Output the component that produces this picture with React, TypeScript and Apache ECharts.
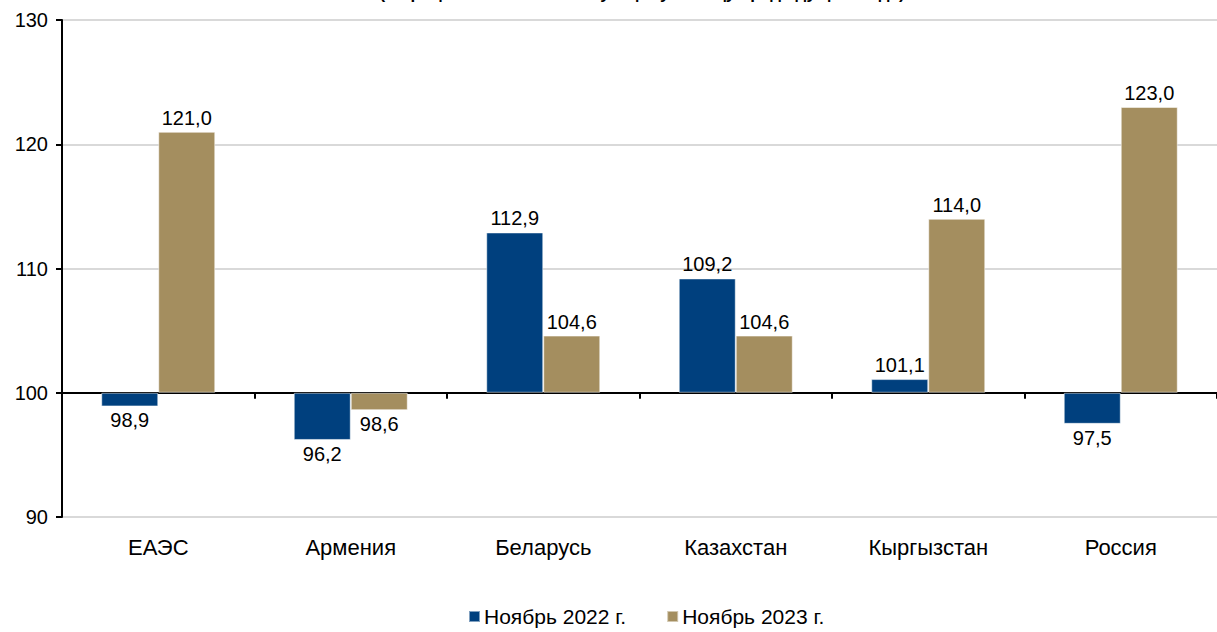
import React, { useEffect, useRef } from "react";
import * as echarts from "echarts";

const categories = ["ЕАЭС", "Армения", "Беларусь", "Казахстан", "Кыргызстан", "Россия"];
const seriesNames = ["Ноябрь 2022 г.", "Ноябрь 2023 г."];
const nov2022 = [98.9, 96.2, 112.9, 109.2, 101.1, 97.5];
const nov2023 = [121.0, 98.6, 104.6, 104.6, 114.0, 123.0];
const baseValue = 100;
const yMin = 90;
const yMax = 130;
const yInterval = 10;
const titleText = "(в процентах к соответствующему месяцу предыдущего года)";

const FONT = "Arial, 'Liberation Sans', sans-serif";

function toItems(values: number[]) {
  return values.map((v) => ({
    value: +(v - baseValue).toFixed(2),
    raw: v,
    label: { position: v >= baseValue ? "top" : "bottom" },
  }));
}

export default function App() {
  const ref = useRef<HTMLDivElement>(null);
  useEffect(() => {
    document.body.style.margin = "0";
    if (!ref.current) return;
    const chart = echarts.init(ref.current, undefined, { renderer: "svg" });
    const labelFmt = (p: any) => (p.data.raw as number).toFixed(1).replace(".", ",");
    chart.setOption({
      animation: false,
      textStyle: { fontFamily: FONT },
      graphic: [
        {
          type: "text",
          x: 642,
          y: 2,
          style: {
            text: titleText,
            fontFamily: FONT,
            fontSize: 17,
            fontWeight: "bold",
            fill: "#000",
            align: "center",
            verticalAlign: "bottom",
          },
        },
      ],
      grid: { left: 62, right: 0, top: 20, bottom: 115, containLabel: false },
      legend: {
        left: 463,
        top: 601,
        icon: "rect",
        itemWidth: 11,
        itemHeight: 11,
        itemGap: 40,
        textStyle: { fontSize: 21, color: "#000", fontFamily: FONT, padding: [0, 0, 0, -1] },
        data: seriesNames,
      },
      xAxis: [
        {
          type: "category",
          data: categories,
          axisLine: { onZero: true, lineStyle: { color: "#000", width: 2 } },
          axisTick: { show: true, length: 6, lineStyle: { color: "#000", width: 2 } },
          axisLabel: { show: false },
          splitLine: { show: false },
        },
        {
          type: "category",
          data: categories,
          position: "bottom",
          axisLine: { show: false, onZero: false },
          axisTick: { show: false },
          axisLabel: { show: true, fontSize: 22, color: "#000", fontFamily: FONT, margin: 19 },
          splitLine: { show: false },
        },
      ],
      yAxis: {
        type: "value",
        min: yMin - baseValue,
        max: yMax - baseValue,
        interval: yInterval,
        axisLine: { show: true, lineStyle: { color: "#000", width: 2 } },
        axisTick: { show: true, length: 6, lineStyle: { color: "#000", width: 2 } },
        axisLabel: {
          fontSize: 20,
          color: "#000",
          fontFamily: FONT,
          margin: 14,
          formatter: (v: number) => String(Math.round(v + baseValue)),
        },
        splitLine: { show: true, lineStyle: { color: "#d9d9d9", width: 2 } },
      },
      series: [
        {
          name: seriesNames[0],
          type: "bar",
          xAxisIndex: 0,
          barWidth: 57,
          barGap: "0%",
          itemStyle: { color: "#00407e", borderColor: "rgba(255,255,255,0.5)", borderWidth: 1 },
          label: { show: true, fontSize: 20, color: "#000", fontFamily: FONT, distance: 4, formatter: labelFmt },
          data: toItems(nov2022),
        },
        {
          name: seriesNames[1],
          type: "bar",
          xAxisIndex: 0,
          barWidth: 57,
          barGap: "0%",
          itemStyle: { color: "#a48e5f", borderColor: "rgba(255,255,255,0.5)", borderWidth: 1 },
          label: { show: true, fontSize: 20, color: "#000", fontFamily: FONT, distance: 4, formatter: labelFmt },
          data: toItems(nov2023),
        },
      ],
    });
    return () => chart.dispose();
  }, []);
  return <div ref={ref} style={{ width: 1217, height: 632 }} />;
}
